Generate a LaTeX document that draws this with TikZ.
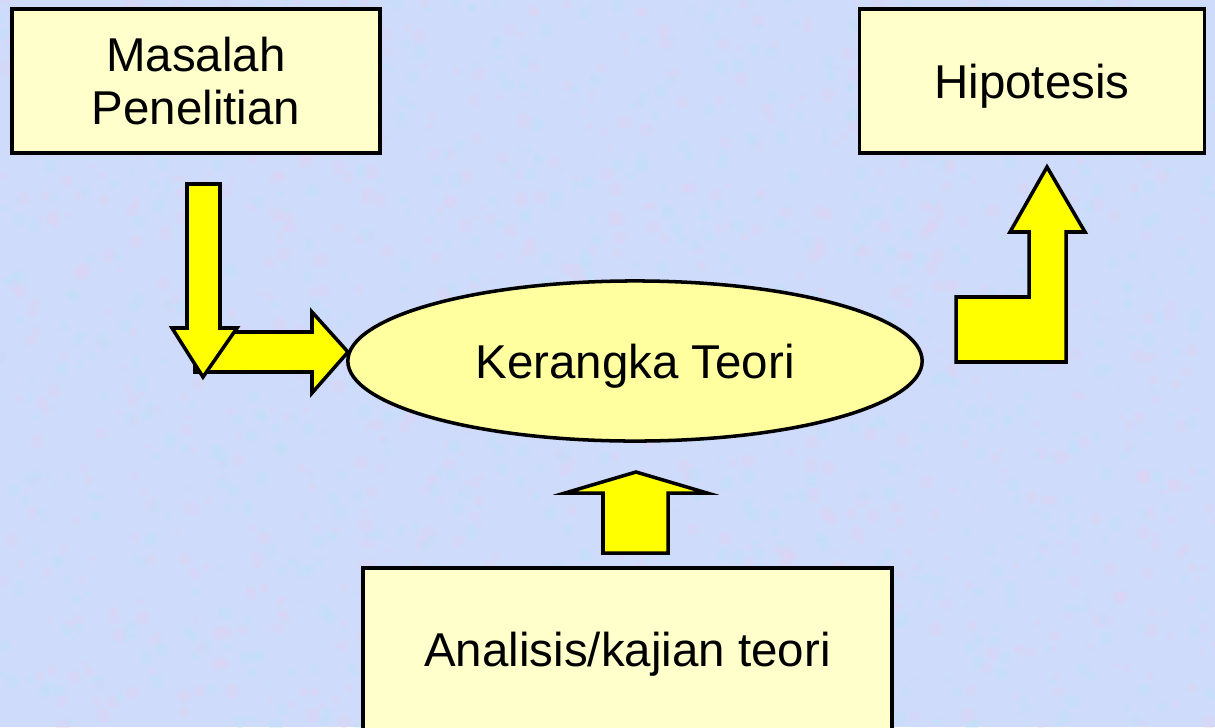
\documentclass[tikz,border=0pt]{standalone}
\usepackage{fontspec}
\setmainfont{Liberation Sans}
\usetikzlibrary{positioning,shapes}
\definecolor{bgblue}{RGB}{206,219,250}
\definecolor{bgpink}{RGB}{228,208,242}
\definecolor{bgcyan}{RGB}{190,226,248}
\definecolor{boxyellow}{RGB}{255,255,204}
\definecolor{ovalyellow}{RGB}{255,255,160}
\definecolor{arrowyellow}{RGB}{255,255,0}

\begin{document}
\begin{tikzpicture}
          [x=0.01cm, y=-0.01cm,
           box/.style={rectangle,draw=black,fill=boxyellow,line width=1pt,inner sep=0pt},
           oval/.style={ellipse,draw=black,fill=ovalyellow,line width=1pt,inner sep=0pt},
           blockarrow/.style={draw=black,fill=arrowyellow,line width=1pt,line join=miter},
           txt/.style={font=\fontsize{13.5}{15}\selectfont,align=center}
          ]
          \useasboundingbox (0,0) rectangle (1215,727);
          \clip (0,0) rectangle (1215,727);
          \fill[bgblue] (0,0) rectangle (1215,727);
          % mottled background
          \pgfmathsetseed{11}
          \foreach \c in {bgpink,bgcyan}{
            \foreach \i in {1,...,900}{
              \pgfmathsetmacro{\px}{random(0,1215)}
              \pgfmathsetmacro{\py}{random(0,727)}
              \pgfmathsetmacro{\pr}{random(3,7)}
              \fill[\c,opacity=0.35] (\px,\py) circle (\pr);
            }
          }
          \node[box,txt,minimum width=3.68cm,minimum height=1.44cm] (masalah) at (196,81) {Masalah\\Penelitian};
          \node[box,txt,text depth=0pt,minimum width=3.45cm,minimum height=1.44cm] (hipotesis) at (1032,81) {Hipotesis};
          \node[oval,txt,text depth=0pt,minimum width=5.74cm,minimum height=1.6cm] (kerangka) at (635,361) {Kerangka Teori};
          \node[box,txt,minimum width=5.29cm,minimum height=1.72cm] (analisis) at (627.5,654) {Analisis/kajian teori};
          % masalah -> kerangka
          \draw[blockarrow] (195,332) -- (312,332) -- (312,312) -- (348,352) -- (312,393) -- (312,372) -- (195,372) -- cycle;
          \draw[blockarrow] (187,184) -- (220,184) -- (220,328) -- (237,328) -- (203,377) -- (172,328) -- (187,328) -- cycle;
          % kerangka -> hipotesis
          \draw[blockarrow] (956,362) -- (1066,362) -- (1066,232) -- (1085,232) -- (1047,167) -- (1010,232) -- (1029,232) -- (1029,297) -- (956,297) -- cycle;
          % analisis -> kerangka
          \draw[blockarrow] (603,553) -- (668,553) -- (668,493) -- (707,493) -- (636,472) -- (565,493) -- (603,493) -- cycle;
        \end{tikzpicture}
\end{document}
